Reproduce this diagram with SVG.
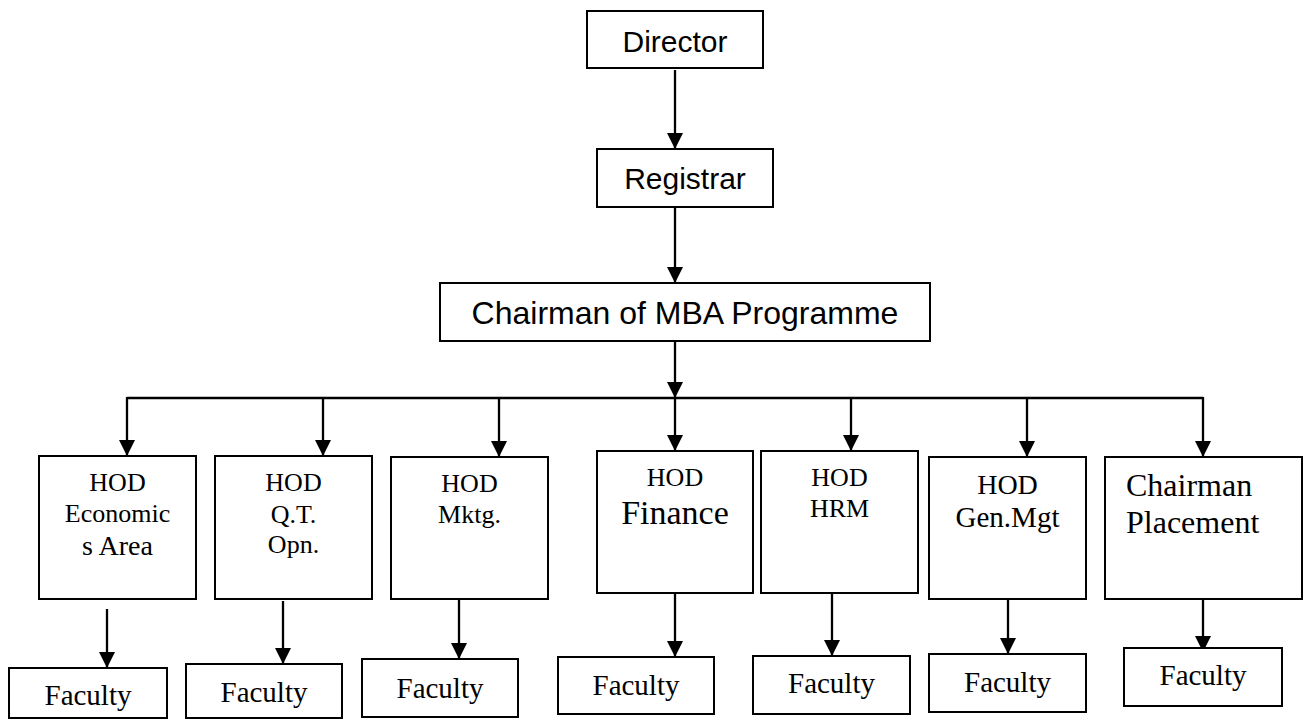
<svg xmlns="http://www.w3.org/2000/svg" width="1308" height="720" viewBox="0 0 1308 720">
<style>
.box{fill:#fff;stroke:#000;stroke-width:2}
.sans{font-family:"Liberation Sans",Arial,sans-serif;font-size:30px;fill:#000;text-anchor:middle}
.serif{font-family:"Liberation Serif","Times New Roman",serif;font-size:26px;fill:#000;text-anchor:middle}
.fac{font-size:29px}
.con{fill:none;stroke:#000;stroke-width:2.3}
</style>
<defs>
<marker id="arr" viewBox="0 0 16 16" refX="16" refY="8" markerWidth="16" markerHeight="16" markerUnits="userSpaceOnUse" orient="auto">
<path d="M0,0 L16,8 L0,16 z" fill="#000"/>
</marker>
</defs>
<rect width="1308" height="720" fill="#fff"/>
<g id="connectors" class="con">
<line x1="675" y1="70" x2="675" y2="149" marker-end="url(#arr)"/>
<line x1="675" y1="207" x2="675" y2="283" marker-end="url(#arr)"/>
<line x1="675" y1="341" x2="675" y2="398" marker-end="url(#arr)"/>
<path d="M127,398 H1203"/>
<line x1="127" y1="397" x2="127" y2="456" marker-end="url(#arr)"/>
<line x1="323" y1="398" x2="323" y2="456" marker-end="url(#arr)"/>
<line x1="499" y1="398" x2="499" y2="457" marker-end="url(#arr)"/>
<line x1="675" y1="398" x2="675" y2="451" marker-end="url(#arr)"/>
<line x1="851" y1="398" x2="851" y2="451" marker-end="url(#arr)"/>
<line x1="1027" y1="398" x2="1027" y2="457" marker-end="url(#arr)"/>
<line x1="1203" y1="397" x2="1203" y2="457" marker-end="url(#arr)"/>
<line x1="107" y1="609" x2="107" y2="668" marker-end="url(#arr)"/>
<line x1="283" y1="601" x2="283" y2="664" marker-end="url(#arr)"/>
<line x1="459" y1="599" x2="459" y2="659" marker-end="url(#arr)"/>
<line x1="675" y1="593" x2="675" y2="657" marker-end="url(#arr)"/>
<line x1="832" y1="593" x2="832" y2="656" marker-end="url(#arr)"/>
<line x1="1008" y1="596" x2="1008" y2="654" marker-end="url(#arr)"/>
<line x1="1203" y1="596" x2="1203" y2="652" marker-end="url(#arr)"/>
</g>
<g id="director"><rect class="box" x="587" y="11" width="176" height="57"/><text class="sans" x="675" y="52">Director</text></g>
<g id="registrar"><rect class="box" x="597" y="149" width="176" height="58"/><text class="sans" x="685" y="189">Registrar</text></g>
<g id="chairman-mba"><rect class="box" x="440" y="283" width="490" height="58"/><text class="sans" x="685" y="324" style="font-size:32px">Chairman of MBA Programme</text></g>
<g id="hod-econ"><rect class="box" x="39" y="456" width="157" height="143"/>
<text class="serif" x="117.5" y="491">HOD</text><text class="serif" x="117.5" y="522">Economic</text><text class="serif" x="117.5" y="555" style="font-size:28px">s Area</text></g>
<g id="hod-qt"><rect class="box" x="215" y="456" width="157" height="143"/>
<text class="serif" x="293.5" y="491">HOD</text><text class="serif" x="293.5" y="523">Q.T.</text><text class="serif" x="293.5" y="553">Opn.</text></g>
<g id="hod-mktg"><rect class="box" x="391" y="457" width="157" height="142"/>
<text class="serif" x="469.5" y="492">HOD</text><text class="serif" x="469.5" y="523">Mktg.</text></g>
<g id="hod-finance"><rect class="box" x="597" y="451" width="156" height="142"/>
<text class="serif" x="675" y="486">HOD</text><text class="serif" x="675" y="524" style="font-size:34px">Finance</text></g>
<g id="hod-hrm"><rect class="box" x="761" y="451" width="157" height="142"/>
<text class="serif" x="839.5" y="486">HOD</text><text class="serif" x="839.5" y="517">HRM</text></g>
<g id="hod-genmgt"><rect class="box" x="929" y="457" width="157" height="142"/>
<text class="serif" x="1007.5" y="494" style="font-size:28px">HOD</text><text class="serif" x="1007.5" y="527" style="font-size:29px">Gen.Mgt</text></g>
<g id="chairman-placement"><rect class="box" x="1105" y="457" width="197" height="142"/>
<text class="serif" x="1126" y="496" style="font-size:32px;text-anchor:start">Chairman</text><text class="serif" x="1126" y="533" style="font-size:32px;text-anchor:start">Placement</text></g>
<g id="faculty-1"><rect class="box" x="9" y="668" width="158" height="50"/><text class="serif fac" x="88" y="705">Faculty</text></g>
<g id="faculty-2"><rect class="box" x="186" y="664" width="156" height="54"/><text class="serif fac" x="264" y="702">Faculty</text></g>
<g id="faculty-3"><rect class="box" x="362" y="659" width="156" height="58"/><text class="serif fac" x="440" y="698">Faculty</text></g>
<g id="faculty-4"><rect class="box" x="558" y="657" width="156" height="57"/><text class="serif fac" x="636" y="695">Faculty</text></g>
<g id="faculty-5"><rect class="box" x="753" y="656" width="157" height="58"/><text class="serif fac" x="831.5" y="693">Faculty</text></g>
<g id="faculty-6"><rect class="box" x="929" y="654" width="157" height="58"/><text class="serif fac" x="1007.5" y="692">Faculty</text></g>
<g id="faculty-7"><rect class="box" x="1124" y="648" width="158" height="58"/><text class="serif fac" x="1203" y="685">Faculty</text></g>
</svg>
